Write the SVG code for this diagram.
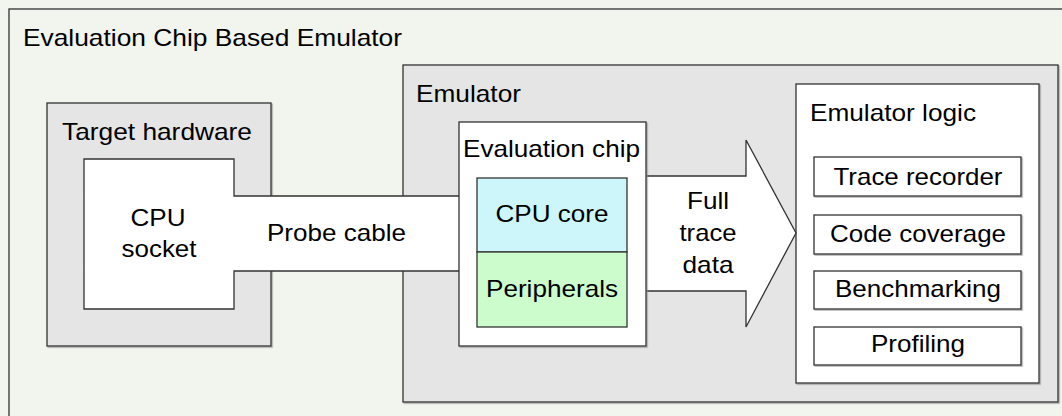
<svg xmlns="http://www.w3.org/2000/svg" width="1062" height="416" viewBox="0 0 1062 416">
  <defs>
    <filter id="shadow" x="-5%" y="-5%" width="110%" height="110%">
      <feDropShadow dx="1.2" dy="1.2" stdDeviation="0.6" flood-color="#888" flood-opacity="0.7"/>
    </filter>
    <style>
      text { font-family: "Liberation Sans", Arial, sans-serif; font-size: 24px; fill: #000; }
      .mid { text-anchor: middle; }
      .box { stroke: #333; stroke-width: 1.3; filter: url(#shadow); }
      .outer { fill: #f2f4ee; }
      .gray { fill: #e5e5e5; }
      .white { fill: #ffffff; }
      .core { fill: #ccf6fa; }
      .periph { fill: #ccfccc; }
      .line { fill: none; stroke: #333; stroke-width: 1.3; }
    </style>
  </defs>

  <!-- background -->
  <rect width="1062" height="416" fill="#f2f4ee"/>

  <!-- whole system frame -->
  <g id="system">
    <rect class="box outer" x="9" y="9" width="1080" height="430"/>
    <text x="23" y="46" textLength="379" lengthAdjust="spacingAndGlyphs">Evaluation Chip Based Emulator</text>
  </g>

  <!-- target board -->
  <g id="target-hardware">
    <rect class="box gray" x="47" y="103" width="224" height="243"/>
    <text x="62" y="140" textLength="190" lengthAdjust="spacingAndGlyphs">Target hardware</text>
  </g>

  <!-- emulator enclosure -->
  <g id="emulator">
    <rect class="box gray" x="403" y="65" width="655" height="337"/>
    <text x="416" y="102" textLength="105" lengthAdjust="spacingAndGlyphs">Emulator</text>
  </g>

  <!-- emulator logic with its functions -->
  <g id="emulator-logic">
    <rect class="box white" x="796" y="84" width="243" height="299"/>
    <text x="810" y="121" textLength="166" lengthAdjust="spacingAndGlyphs">Emulator logic</text>
  </g>
  <g id="trace-recorder">
    <rect class="box white" x="814" y="157" width="207" height="39"/>
    <text class="mid" x="918" y="185" textLength="169" lengthAdjust="spacingAndGlyphs">Trace recorder</text>
  </g>
  <g id="code-coverage">
    <rect class="box white" x="814" y="215" width="207" height="39"/>
    <text class="mid" x="918" y="242" textLength="176" lengthAdjust="spacingAndGlyphs">Code coverage</text>
  </g>
  <g id="benchmarking">
    <rect class="box white" x="814" y="271" width="207" height="38"/>
    <text class="mid" x="918" y="297" textLength="166" lengthAdjust="spacingAndGlyphs">Benchmarking</text>
  </g>
  <g id="profiling">
    <rect class="box white" x="814" y="327" width="207" height="38"/>
    <text class="mid" x="918" y="352" textLength="94" lengthAdjust="spacingAndGlyphs">Profiling</text>
  </g>

  <!-- connectors: probe cable from socket, trace data arrow -->
  <g id="connectors">
    <g id="probe-cable">
      <path d="M84,159 H234 V196 H459 V271 H234 V309 H84 Z" fill="#ffffff" stroke="none"/>
      <path class="line" d="M459,196 H234 V159 H84 V309 H234 V271 H459"/>
      <text x="267" y="241" textLength="139" lengthAdjust="spacingAndGlyphs">Probe cable</text>
    </g>
    <g id="trace-arrow">
      <path d="M646,176 H746 V140 L796,233 L746,327 V291 H646 Z" fill="#ffffff" stroke="none"/>
      <path class="line" d="M646,176 H746 V140 L796,233 L746,327 V291 H646"/>
      <text class="mid" x="708" y="209" textLength="42" lengthAdjust="spacingAndGlyphs">Full</text>
      <text class="mid" x="708" y="241" textLength="57" lengthAdjust="spacingAndGlyphs">trace</text>
      <text class="mid" x="708" y="273" textLength="51" lengthAdjust="spacingAndGlyphs">data</text>
    </g>
  </g>

  <g id="cpu-socket">
    <text class="mid" x="158" y="226" textLength="55" lengthAdjust="spacingAndGlyphs">CPU</text>
    <text class="mid" x="159" y="257" textLength="75" lengthAdjust="spacingAndGlyphs">socket</text>
  </g>

  <!-- evaluation chip with its core and peripherals -->
  <g id="evaluation-chip">
    <rect class="box white" x="459" y="122" width="187" height="224"/>
    <text x="463" y="157" textLength="177" lengthAdjust="spacingAndGlyphs">Evaluation chip</text>
  </g>
  <g id="cpu-core">
    <rect class="core" x="477" y="178" width="150" height="74" stroke="#333" stroke-width="1.3"/>
    <text class="mid" x="552" y="222" textLength="113" lengthAdjust="spacingAndGlyphs">CPU core</text>
  </g>
  <g id="peripherals">
    <rect class="periph" x="477" y="252" width="150" height="75" stroke="#333" stroke-width="1.3"/>
    <text class="mid" x="552" y="297" textLength="132" lengthAdjust="spacingAndGlyphs">Peripherals</text>
  </g>
</svg>
